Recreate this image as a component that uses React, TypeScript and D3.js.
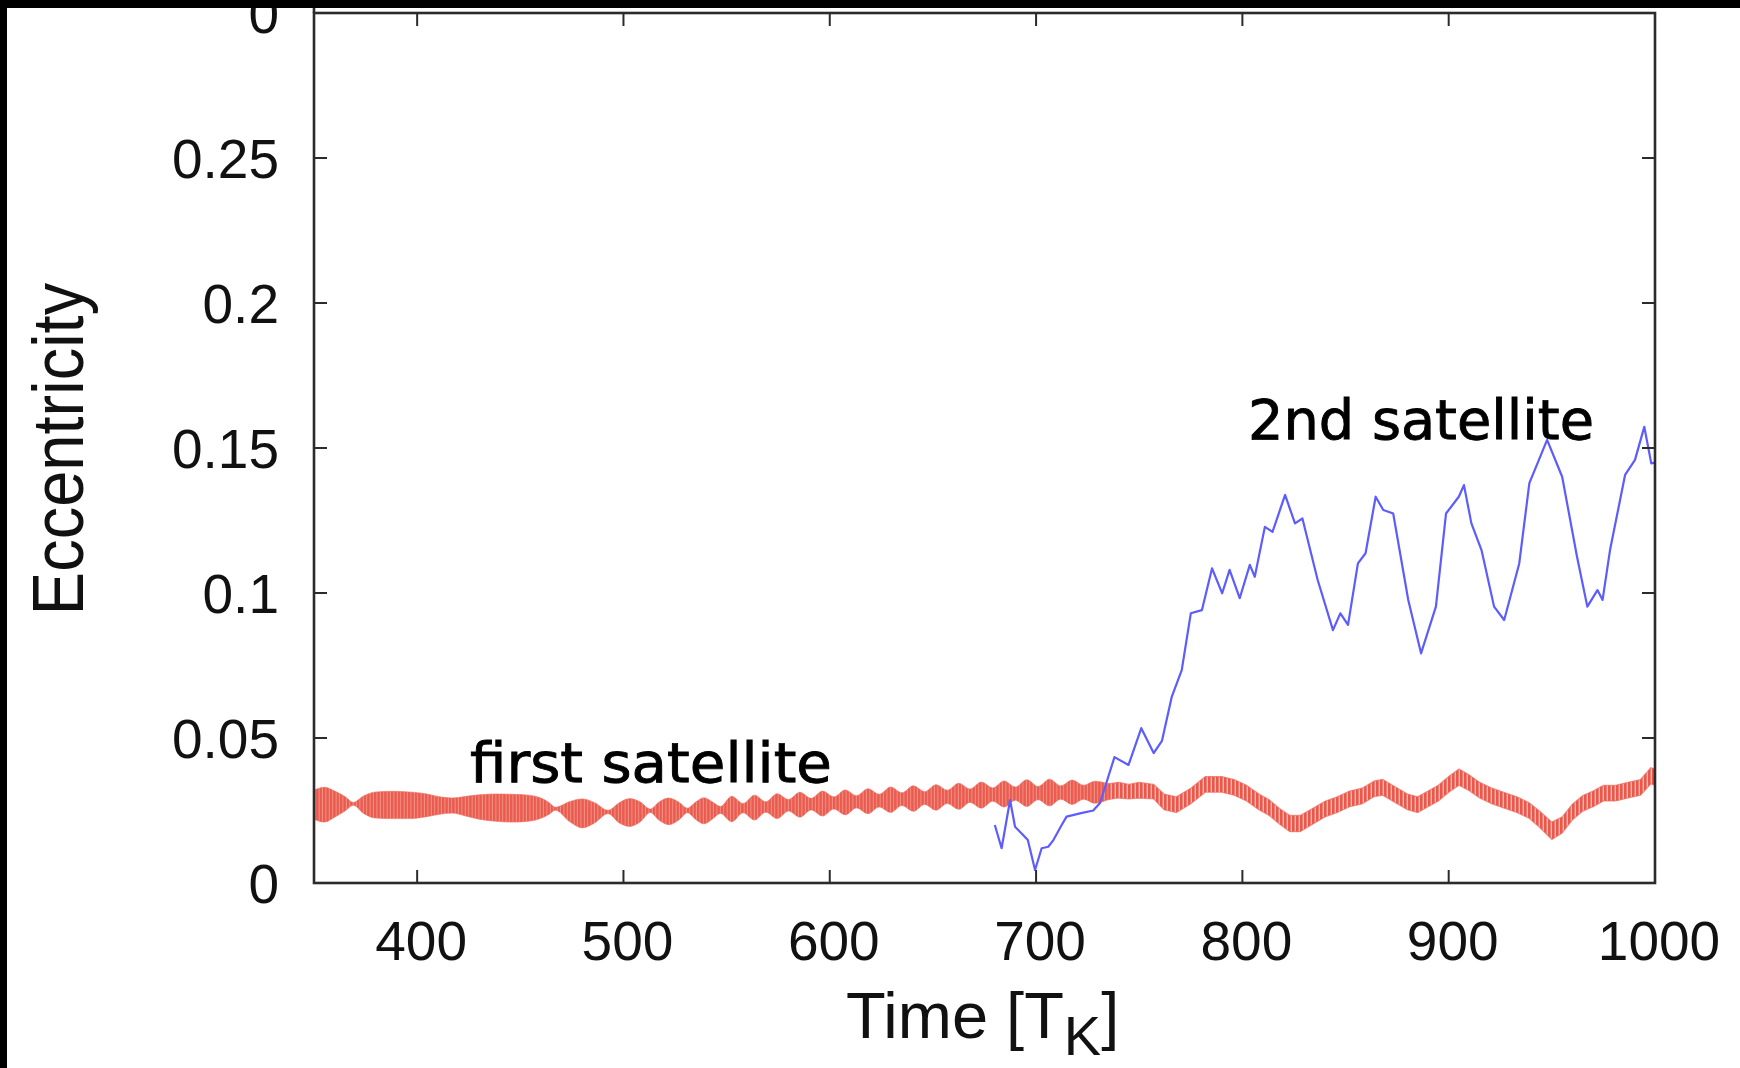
import React from "react";
import * as d3 from "d3";

// ---------- data ----------
const xTicks = [400, 500, 600, 700, 800, 900, 1000];
const yTicks = [0, 0.05, 0.1, 0.15, 0.2, 0.25];
const yTickLabels = ["0", "0.05", "0.1", "0.15", "0.2", "0.25"];

// first satellite: fast oscillation, given as centre and half-width of the red band
const redT = [
  350, 355, 360, 365, 369, 374, 380, 388, 396, 404, 411, 417, 423, 430, 438, 446, 454, 460, 464, 467,
  474, 480, 486, 492.5, 498, 503, 508, 513, 517, 522, 527, 531, 535, 539, 543,
  547, 552.5, 558, 563.5, 569, 574.5, 580, 585.5, 591, 596.5, 602, 607.5, 613, 618.5, 624, 629.5,
  635, 640.5, 646, 651.5, 657, 662.5, 668, 673.5, 679, 684.5, 690, 695.5, 701, 706.5, 712, 717.5,
  723, 728.5, 735, 740, 745, 750, 757, 762, 768, 775, 782, 790, 796, 802, 808, 813, 818, 823, 828,
  834, 840, 846, 852, 858, 864, 868, 874, 880, 885, 890, 895, 900, 905, 910, 915, 921, 927, 933,
  939, 944, 950, 955, 960, 965, 970, 975, 981, 987, 993, 998, 1000,
];
const redMid = [
  0.027, 0.027, 0.0272, 0.0273, 0.0273, 0.027, 0.0269, 0.0269, 0.0268, 0.0268, 0.0267, 0.0267, 0.0265, 0.0262, 0.026, 0.0258, 0.0258, 0.0258, 0.0257, 0.0256,
  0.0246, 0.024, 0.0242, 0.0245, 0.0242, 0.0243, 0.0245, 0.0249, 0.0248, 0.0247, 0.0248, 0.025, 0.0249, 0.0249, 0.025,
  0.0252, 0.0255, 0.0258, 0.026, 0.0262, 0.0265, 0.0268, 0.027, 0.0272, 0.0274, 0.0276, 0.0278, 0.028, 0.0282, 0.0284, 0.0287,
  0.0289, 0.0291, 0.0293, 0.0295, 0.0297, 0.0299, 0.0301, 0.0303, 0.0305, 0.0307, 0.0308, 0.031, 0.031, 0.0312, 0.0312, 0.0313,
  0.0313, 0.0313, 0.0315, 0.032, 0.0315, 0.032, 0.0315, 0.028, 0.027, 0.03, 0.034, 0.034, 0.033, 0.031, 0.028, 0.026, 0.023, 0.0205, 0.0205,
  0.023, 0.0255, 0.027, 0.029, 0.03, 0.0325, 0.033, 0.0305, 0.028, 0.027, 0.029, 0.031, 0.034, 0.0365, 0.0345, 0.032, 0.03, 0.0285, 0.027,
  0.025, 0.022, 0.018, 0.02, 0.0245, 0.0275, 0.029, 0.031, 0.031, 0.032, 0.033, 0.037, 0.0365,
];
const redHalf = [
  0.005, 0.006, 0.0045, 0.0025, 0.0005, 0.003, 0.0045, 0.0047, 0.0046, 0.004, 0.003, 0.0026, 0.0033, 0.0042, 0.0047, 0.0048, 0.0045, 0.0035, 0.002, 0.0005,
  0.0035, 0.005, 0.0035, 0.0006, 0.0035, 0.0048, 0.0035, 0.0006, 0.003, 0.0046, 0.003, 0.0008, 0.003, 0.0045, 0.003,
  0.0012, 0.0044, 0.0016, 0.0043, 0.0018, 0.0043, 0.002, 0.0043, 0.002, 0.0043, 0.0021, 0.0043, 0.0021, 0.0043, 0.0022, 0.0044,
  0.0022, 0.0044, 0.0022, 0.0044, 0.0023, 0.0045, 0.0023, 0.0045, 0.0023, 0.0045, 0.0023, 0.0046, 0.0023, 0.0046, 0.0023, 0.0042,
  0.0024, 0.0038, 0.0027, 0.0027, 0.0025, 0.0027, 0.0025, 0.0027, 0.0027, 0.0027, 0.0027, 0.0027, 0.0027, 0.0027, 0.0027, 0.0027, 0.0027, 0.0028, 0.0028,
  0.0027, 0.0027, 0.0027, 0.0027, 0.0027, 0.0027, 0.0027, 0.0027, 0.0027, 0.0027, 0.0027, 0.0027, 0.0027, 0.0028, 0.0027, 0.0027, 0.0027, 0.0027, 0.0027,
  0.0027, 0.0028, 0.003, 0.0028, 0.0027, 0.0027, 0.0027, 0.0027, 0.0027, 0.0027, 0.0027, 0.0028, 0.0028,
];
const redSplitT = 735; // beating band before, noisy zig-zag after

// second satellite
const blueT = [
  680, 683.3, 687.4, 689.8, 693, 696, 699.5, 702.7, 705.9, 708.4, 712.4, 714.8, 721.3, 727.7, 731, 738,
  744.8, 751, 757, 761, 765.8, 770.6, 775, 780.4, 785.3, 790.2, 793.8, 798.7, 803.6, 806, 810.9, 814.6,
  820.7, 825.5, 829.1, 836.5, 843.9, 847.5, 851.2, 856, 859.7, 864.6, 868.3, 873.1, 880.4, 886.6, 893.8,
  898.7, 904.9, 907.4, 911, 915.9, 922, 926.9, 934.2, 939.1, 947.7, 955, 962.2, 967.2, 972.1, 974.6,
  978.2, 985.5, 990.3, 994.8, 998.2, 1000,
];
const blueE = [
  0.02, 0.012, 0.0286, 0.0194, 0.0171, 0.0148, 0.0045, 0.012, 0.0125, 0.0148, 0.02, 0.0229, 0.024, 0.025, 0.0276, 0.0434,
  0.0407, 0.0534, 0.0448, 0.049, 0.0643, 0.0734, 0.093, 0.0941, 0.1085, 0.0999, 0.108, 0.0982, 0.1097, 0.1056, 0.1228, 0.1211,
  0.1338, 0.124, 0.1257, 0.1045, 0.0872, 0.093, 0.089, 0.1102, 0.1137, 0.1332, 0.1286, 0.1274, 0.0976, 0.0792, 0.0953,
  0.1274, 0.1332, 0.1372, 0.124, 0.1148, 0.0953, 0.0907, 0.1102, 0.1379, 0.1528, 0.1401, 0.1125, 0.0953, 0.101, 0.0976,
  0.1148, 0.1407, 0.1459, 0.1573, 0.1447, 0.145,
];

const annotations = [
  { text: "first satellite", t: 425.6, e: 0.0348, len: 362 },
  { text: "2nd satellite", t: 802.7, e: 0.1532, len: 346 },
];

// ---------- layout ----------
const W = 1740;
const H = 1068;
const L = 314, R = 1655, T = 13, B = 883;

export default function App() {
  const x = d3.scaleLinear().domain([350, 1000]).range([L, R]);
  const y = d3.scaleLinear().domain([0, 0.3]).range([B, T]);

  const bandGen = d3
    .area<number>()
    .x((i) => x(redT[i]))
    .y0((i) => y(redMid[i] - redHalf[i]))
    .y1((i) => y(redMid[i] + redHalf[i]))
    .curve(d3.curveMonotoneX);
  const idxA = redT.map((_, i) => i).filter((i) => redT[i] <= redSplitT);
  const idxB = redT.map((_, i) => i).filter((i) => redT[i] >= redSplitT);
  const bandA = bandGen(idxA);
  const bandB = bandGen.curve(d3.curveLinear)(idxB);

  const blueLine = d3
    .line<number>()
    .x((i) => x(blueT[i]))
    .y((i) => y(blueE[i]))(blueT.map((_, i) => i));

  const axisColor = "#2b2b2b";
  const tickLen = 13;
  const tickFont = "'Liberation Sans', Arial, Helvetica, sans-serif";

  return (
    <svg
      width={W}
      height={H}
      viewBox={`0 0 ${W} ${H}`}
      style={{ position: "absolute", left: 0, top: 0, display: "block", background: "#fff" }}
    >
      <defs>
        <pattern id="hatch" patternUnits="userSpaceOnUse" width="3.4" height="20">
          <rect width="3.4" height="20" fill="#ea5a4d" />
          <rect x="2.4" width="0.9" height="20" fill="#f39a90" />
        </pattern>
        <pattern id="zig" patternUnits="userSpaceOnUse" width="4" height="20">
          <rect width="4" height="20" fill="#f6b8b1" />
          <rect x="0" width="2.6" height="20" fill="#e9584b" />
        </pattern>
        <clipPath id="plotClip">
          <rect x={L} y={T} width={R - L} height={B - T} />
        </clipPath>
      </defs>
      <rect x={0} y={0} width={W} height={H} fill="#fff" />

      <g clipPath="url(#plotClip)">
        <path d={bandA || ""} fill="url(#hatch)" stroke="#ec6a5e" strokeWidth={1} strokeOpacity={0.6} />
        <path d={bandB || ""} fill="url(#zig)" stroke="#ec6a5e" strokeWidth={1.2} strokeOpacity={0.7} />
        <path d={blueLine || ""} fill="none" stroke="#5c5cff" strokeWidth={2.2} strokeLinejoin="round" />
      </g>

      {/* frame */}
      <rect x={L} y={T} width={R - L} height={B - T} fill="none" stroke={axisColor} strokeWidth={2.6} />
      <line x1={L} x2={L} y1={0} y2={T} stroke={axisColor} strokeWidth={2.6} />

      {/* x ticks */}
      {xTicks.map((t) => (
        <g key={"x" + t}>
          <line x1={x(t)} x2={x(t)} y1={B} y2={B - tickLen} stroke={axisColor} strokeWidth={2} />
          <line x1={x(t)} x2={x(t)} y1={T} y2={T + tickLen} stroke={axisColor} strokeWidth={2} />
          <text x={x(t) + 4} y={960} textAnchor="middle" fontFamily={tickFont} fontSize={55} fill="#111">
            {t}
          </text>
        </g>
      ))}

      {/* y ticks */}
      {yTicks.map((v, i) => (
        <g key={"y" + v}>
          <line x1={L} x2={L + tickLen} y1={y(v)} y2={y(v)} stroke={axisColor} strokeWidth={2} />
          <line x1={R} x2={R - tickLen} y1={y(v)} y2={y(v)} stroke={axisColor} strokeWidth={2} />
          <text x={279} y={y(v) + 20} textAnchor="end" fontFamily={tickFont} fontSize={55} fill="#111">
            {yTickLabels[i]}
          </text>
        </g>
      ))}

      {/* bottom label of the panel above, mostly cut off by the crop */}
      <text x={279} y={T + 20} textAnchor="end" fontFamily={tickFont} fontSize={55} fill="#111">
        0
      </text>

      {/* axis titles */}
      <text x={846} y={1038} fontFamily={tickFont} fontSize={65} fill="#111">
        Time [T
        <tspan dy={17} fontSize={56}>K</tspan>
        <tspan dy={-17}>]</tspan>
      </text>
      <text
        transform={`translate(83, ${449}) rotate(-90) scale(1, 1.12)`}
        textAnchor="middle"
        fontFamily={tickFont}
        fontSize={65}
        fill="#111"
      >
        Eccentricity
      </text>

      {/* annotations */}
      {annotations.map((a) => (
        <text
          key={a.text}
          x={x(a.t)}
          y={y(a.e)}
          fontFamily="'DejaVu Sans', sans-serif"
          fontSize={56}
          textLength={a.len}
          lengthAdjust="spacingAndGlyphs"
          fill="#000"
          stroke="#000"
          strokeWidth={0.9}
        >
          {a.text}
        </text>
      ))}

      {/* black edges of the crop */}
      <rect x={0} y={0} width={W} height={8} fill="#000" />
      <rect x={0} y={0} width={7} height={H} fill="#000" />
    </svg>
  );
}
